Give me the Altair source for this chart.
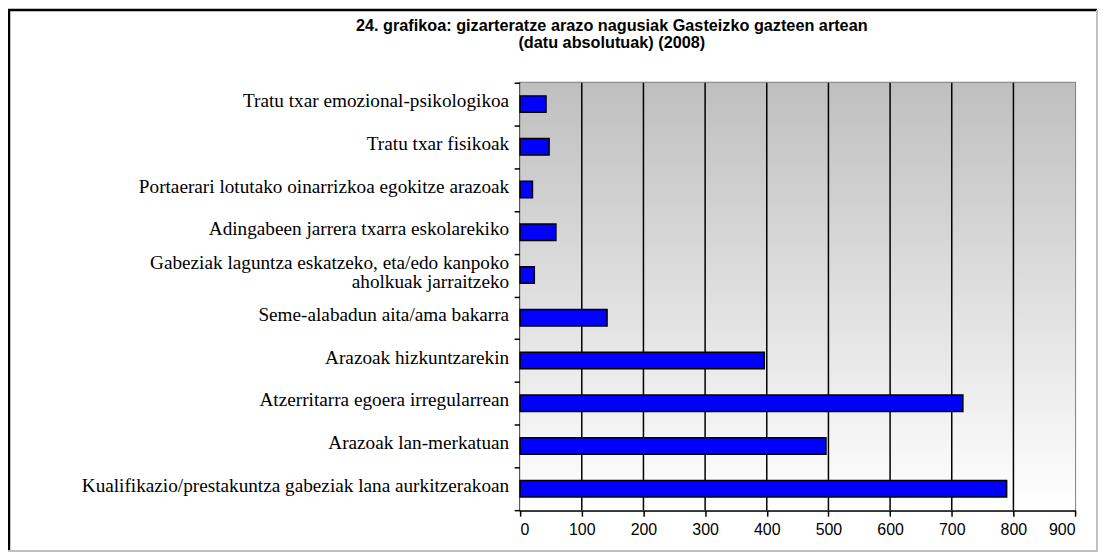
import altair as alt
import pandas as pd

# ---- data ----
categories = [
    "Tratu txar emozional-psikologikoa",
    "Tratu txar fisikoak",
    "Portaerari lotutako oinarrizkoa egokitze arazoak",
    "Adingabeen jarrera txarra eskolarekiko",
    "Gabeziak laguntza eskatzeko, eta/edo kanpoko|aholkuak jarraitzeko",
    "Seme-alabadun aita/ama bakarra",
    "Arazoak hizkuntzarekin",
    "Atzerritarra egoera irregularrean",
    "Arazoak lan-merkatuan",
    "Kualifikazio/prestakuntza gabeziak lana aurkitzerakoan",
]
values = [42, 47, 20, 58, 23, 141, 396, 718, 496, 789]
x_ticks = [0, 100, 200, 300, 400, 500, 600, 700, 800, 900]
grid_values = [100, 200, 300, 400, 500, 600, 700, 800]
title_lines = "24. grafikoa: gizarteratze arazo nagusiak Gasteizko gazteen artean|(datu absolutuak)  (2008)"

W, H = 557, 429
LINE_H = 19
STEP = H / len(categories)

bars_df = pd.DataFrame({"cat": categories, "value": values})
grid_df = pd.DataFrame({"value": grid_values})
bg_df = pd.DataFrame({"a": [0]})
title_df = pd.DataFrame({"t": [title_lines]})

# one row per label line (multi-line category labels split on '|')
lab_rows = []
for c in categories:
    parts = c.split("|")
    n = len(parts)
    for i, p in enumerate(parts):
        lab_rows.append({"cat": c, "line": p,
                         "off": STEP / 2 - 3 + (i - (n - 1) / 2) * LINE_H})
labels_df = pd.DataFrame(lab_rows)

x_scale = alt.Scale(domain=[0, 900], nice=False, zero=True)
x_axis = alt.Axis(
    values=x_ticks, title=None, grid=False,
    domainColor="black", domainWidth=2,
    tickColor="black", tickWidth=1.5, tickSize=6,
    labelFont="Liberation Sans", labelFontSize=16, labelColor="black",
    labelPadding=5,
)
y_scale = alt.Scale(domain=categories, paddingInner=0, paddingOuter=0)
y_axis = alt.Axis(
    title=None, labels=False,
    domainColor="black", domainWidth=2,
    tickColor="black", tickWidth=1.5, tickSize=6, tickBand="extent",
)

background = alt.Chart(bg_df).mark_rect(
    color=alt.Gradient(
        gradient="linear",
        stops=[alt.GradientStop(color="#bfbfbf", offset=0),
               alt.GradientStop(color="#ffffff", offset=1)],
        x1=0, x2=0, y1=0, y2=1,
    )
).encode(x=alt.value(0), x2=alt.value(W), y=alt.value(0), y2=alt.value(H))

grid = alt.Chart(grid_df).mark_rule(color="black", strokeWidth=1.5).encode(
    x=alt.X("value:Q", scale=x_scale, axis=x_axis)
)

bars = alt.Chart(bars_df).mark_bar(
    color="#0000ff", stroke="black", strokeWidth=1.5, size=16.5
).encode(
    x=alt.X("value:Q", scale=x_scale, axis=x_axis),
    y=alt.Y("cat:N", sort=categories, scale=y_scale, axis=y_axis),
)

labels = alt.Chart(labels_df).mark_text(
    font="Liberation Serif", fontSize=19.3, color="black",
    align="right", baseline="middle",
).encode(
    x=alt.value(-11),
    y=alt.Y("cat:N", sort=categories, scale=y_scale, axis=y_axis),
    yOffset=alt.YOffset("off:Q", scale=None),
    text="line:N",
)

title = alt.Chart(title_df).mark_text(
    font="Liberation Sans", fontSize=16.3, fontWeight="bold", color="black",
    align="center", baseline="alphabetic", lineBreak="|", lineHeight=16.7,
).encode(x=alt.value(92), y=alt.value(-52), text="t:N")

frame_left = alt.Chart(bg_df).mark_rule(color="black", strokeWidth=2.5).encode(
    x=alt.value(-513), y=alt.value(-73), y2=alt.value(470))
frame_top = alt.Chart(bg_df).mark_rule(color="black", strokeWidth=2.5).encode(
    x=alt.value(-514), x2=alt.value(579), y=alt.value(-73))
frame_right = alt.Chart(bg_df).mark_rule(color="#c0c0c0", strokeWidth=2).encode(
    x=alt.value(579), y=alt.value(-73), y2=alt.value(470))
frame_bottom = alt.Chart(bg_df).mark_rule(color="#c0c0c0", strokeWidth=2).encode(
    x=alt.value(-514), x2=alt.value(580), y=alt.value(470))

chart = alt.layer(
    background, grid, bars, labels, title,
    frame_left, frame_top, frame_right, frame_bottom
).properties(
    width=W, height=H,
    autosize=alt.AutoSizeParams(type="none"),
    padding={"left": 514, "top": 74, "right": 23, "bottom": 42},
    background="white",
).configure_view(stroke="#808080", strokeWidth=2)

chart.save("out.html", embed_options={"renderer": "svg", "actions": False})
